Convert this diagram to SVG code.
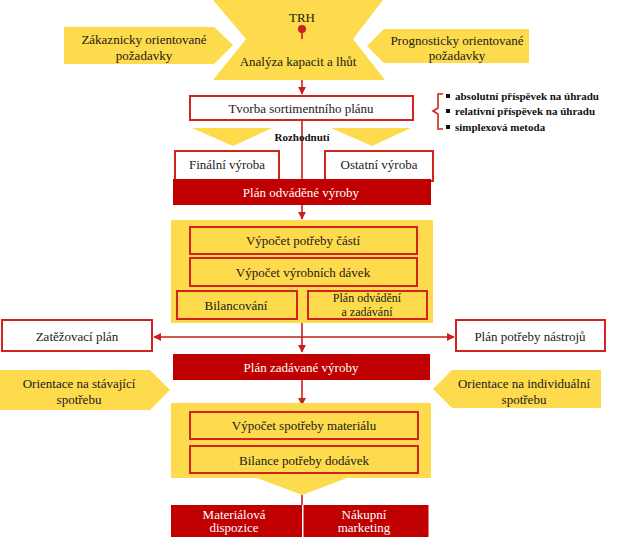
<svg xmlns="http://www.w3.org/2000/svg" width="640" height="541" viewBox="0 0 640 541">
<defs>
<style>
.y{fill:#fedb4c}
.yb{fill:#fedb4c;stroke:#fff;stroke-width:4}
.wb{fill:#fff;stroke:#d0251f;stroke-width:2}
.ib{fill:none;stroke:#d0251f;stroke-width:2}
.rb{fill:#c00000}
.ln{stroke:#c8201a;stroke-width:1.6;fill:none}
.t{font-family:"Liberation Serif","Times New Roman",serif;font-size:13px;fill:#1a1a1a;text-anchor:middle}
.s{font-size:12px}
.tw{font-family:"Liberation Serif","Times New Roman",serif;font-size:13px;fill:#fff;text-anchor:middle}
.tb{font-family:"Liberation Serif","Times New Roman",serif;font-size:11px;font-weight:bold;fill:#111}
</style>
<marker id="ah" viewBox="0 0 10 10" refX="9" refY="5" markerWidth="5" markerHeight="5" orient="auto" markerUnits="strokeWidth">
<path d="M0,0 L10,5 L0,10 z" fill="#c8201a"/>
</marker>
</defs>
<rect width="640" height="541" fill="#fff"/>

<g id="trh">
<polygon class="y" points="213,0 383,0 353,39 246,39"/>
<text class="t" x="302" y="22">TRH</text>
</g>
<g id="analyza">
<polygon class="y" points="246,39 353,39 385,80 213,80"/>
<text class="t" x="298" y="66">Analýza kapacit  a lhůt</text>
</g>
<g id="zakaznicky">
<polygon class="yb" points="62,25 215,25 236,45 215,66 62,66"/>
<text class="t" x="144" y="44">Zákaznicky orientované</text>
<text class="t" x="144" y="60">požadavky</text>
</g>
<g id="prognosticky">
<polygon class="yb" points="531,27 383,27 364,46 383,65 531,65"/>
<text class="t" x="457" y="45">Prognosticky orientované</text>
<text class="t" x="457" y="60">požadavky</text>
</g>

<g id="connectors">
<line class="ln" x1="302" y1="30" x2="302" y2="39"/>
<circle cx="302" cy="29" r="4" fill="#c8201a"/>
<line class="ln" x1="302" y1="80" x2="302" y2="94" marker-end="url(#ah)"/>
<line class="ln" x1="302" y1="120" x2="302" y2="179"/>
<line class="ln" x1="302" y1="205" x2="302" y2="219" marker-end="url(#ah)"/>
<line class="ln" x1="302" y1="323" x2="302" y2="352" marker-end="url(#ah)"/>
<line class="ln" x1="302" y1="337" x2="154" y2="337" marker-end="url(#ah)"/>
<line class="ln" x1="302" y1="337" x2="454" y2="337" marker-end="url(#ah)"/>
<line class="ln" x1="302" y1="380" x2="302" y2="405" marker-end="url(#ah)"/>
<line class="ln" x1="302" y1="495" x2="302" y2="505"/>
</g>

<g id="tvorba">
<rect class="wb" x="190" y="96" width="223" height="24"/>
<text class="t" x="301" y="113">Tvorba sortimentního plánu</text>
</g>
<g id="metody">
<path d="M443,94 L438,94 L438,108 L433,111 L438,114 L438,129 L443,129" fill="none" stroke="#d0251f" stroke-width="1.6"/>
<rect x="446" y="94" width="4" height="4" fill="#111"/>
<rect x="446" y="109" width="4" height="4" fill="#111"/>
<rect x="446" y="125" width="4" height="4" fill="#111"/>
<text class="tb" x="455" y="100">absolutní příspěvek na úhradu</text>
<text class="tb" x="455" y="115">relativní příspěvek na úhradu</text>
<text class="tb" x="455" y="131">simplexová metoda</text>
</g>
<g id="rozhodnuti">
<polygon class="y" points="192,128 272,128 233,146"/>
<polygon class="y" points="331,128 411,128 372,146"/>
<text class="tb" x="302" y="141" text-anchor="middle">Rozhodnutí</text>
</g>
<g id="finalni">
<rect class="wb" x="175" y="151" width="104" height="30"/>
<text class="t" x="227" y="169">Finální výroba</text>
</g>
<g id="ostatni">
<rect class="wb" x="325" y="151" width="108" height="30"/>
<text class="t" x="379" y="169">Ostatní  výroba</text>
</g>
<g id="plan-odvadene">
<rect class="rb" x="173" y="179" width="258" height="26"/>
<text class="tw" x="301" y="197">Plán odváděné výroby</text>
</g>

<g id="blok1">
<rect class="y" x="171" y="220" width="262" height="103"/>
<rect class="ib" x="190" y="227" width="227" height="27"/>
<text class="t" x="303" y="245">Výpočet potřeby částí</text>
<rect class="ib" x="190" y="258" width="227" height="28"/>
<text class="t" x="303" y="277">Výpočet výrobních dávek</text>
<rect class="ib" x="177" y="291" width="120" height="28"/>
<text class="t" x="236" y="310">Bilancování</text>
<rect class="ib" x="308" y="291" width="119" height="28"/>
<text class="t s" x="367" y="302">Plán odvádění</text>
<text class="t s" x="367" y="315.5">a zadávání</text>
</g>

<g id="zatezovaci">
<rect class="wb" x="2" y="320" width="150" height="31"/>
<text class="t" x="77" y="341">Zatěžovací  plán</text>
</g>
<g id="nastroje">
<rect class="wb" x="456" y="320" width="149" height="31"/>
<text class="t" x="530" y="341">Plán potřeby  nástrojů</text>
</g>
<g id="plan-zadavane">
<rect class="rb" x="173" y="354" width="257" height="26"/>
<text class="tw" x="301" y="372">Plán zadávané  výroby</text>
</g>
<g id="stavajici">
<polygon class="y" points="0,370 150,370 170,390 150,410 0,410"/>
<text class="t" x="79" y="388">Orientace na stávající</text>
<text class="t" x="79" y="404">spotřebu</text>
</g>
<g id="individualni">
<polygon class="y" points="601,370 452,370 433,389 452,408 601,408"/>
<text class="t" x="524" y="388">Orientace na individuální</text>
<text class="t" x="524" y="404">spotřebu</text>
</g>

<g id="blok2">
<polygon class="y" points="171,403 431,403 431,478 347,478 302,495 257,478 171,478"/>
<rect class="ib" x="190" y="412" width="228" height="27"/>
<text class="t" x="304" y="430">Výpočet spotřeby materiálu</text>
<rect class="ib" x="190" y="446" width="228" height="27"/>
<text class="t" x="304" y="465">Bilance potřeby dodávek</text>
</g>
<g id="materialova">
<rect class="rb" x="171" y="505" width="131" height="32"/>
<text class="tw s" x="234" y="518.5">Materiálová</text>
<text class="tw s" x="234" y="532">dispozice</text>
</g>
<g id="nakupni">
<rect class="rb" x="303.5" y="505" width="125" height="32"/>
<text class="tw s" x="364" y="518.5">Nákupní</text>
<text class="tw s" x="364" y="532">marketing</text>
</g>
</svg>
